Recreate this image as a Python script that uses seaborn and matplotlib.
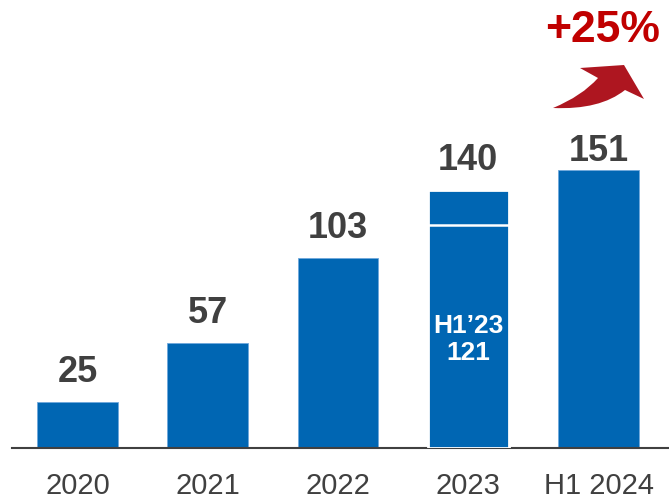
import matplotlib
matplotlib.use('Agg')
import matplotlib.pyplot as plt
import seaborn as sns
import pandas as pd
from matplotlib.path import Path
from matplotlib.patches import PathPatch

# chart data
categories = ['2020', '2021', '2022', '2023', 'H1 2024']
values = [25, 57, 103, 140, 151]
h1_2023 = 121
growth_label = '+25%'

blue = '#0066B3'
grey = '#404040'
red_text = '#C00000'
red_arrow = '#AE1620'

sns.set_theme(style='white')
plt.rcParams['font.family'] = ['Liberation Sans', 'DejaVu Sans']

W, H = 669, 499
fig = plt.figure(figsize=(W / 100, H / 100), dpi=100)
ax = fig.add_axes([12 / W, (H - 448) / H, 657 / W, 448 / H])

df = pd.DataFrame({'period': categories, 'value': values})
sns.barplot(data=df, x='period', y='value', color=blue, saturation=1,
            width=0.62, edgecolor='#6FA8DC', linewidth=0.6, ax=ax)

ax.set_xlim(-0.503, 4.54)
ax.set_ylim(0, 448 / 1.84)

# 2023 bar: white outline and H1 split line
bar23 = ax.patches[3]
bar23.set_edgecolor('white')
bar23.set_linewidth(2)
bar23.set_zorder(3)
bx = bar23.get_x()
bw = bar23.get_width()
ax.hlines(h1_2023, bx, bx + bw, color='white', lw=1.8, zorder=4)
ax.text(bx + bw / 2, 59, f'H1\u201923\n{h1_2023}', ha='center', va='center',
        color='white', fontsize=19, fontweight='bold', linespacing=1.2, zorder=5)

# value labels
for i, v in enumerate(values):
    off = 1 if i == len(values) - 1 else 9
    ax.annotate(str(v), (i, v), xytext=(0, off), textcoords='offset points',
                ha='center', va='bottom', fontsize=26, fontweight='bold', color=grey)

for s in ['top', 'right', 'left']:
    ax.spines[s].set_visible(False)
ax.spines['bottom'].set_color(grey)
ax.spines['bottom'].set_linewidth(1.5)
ax.set_yticks([])
ax.set_xlabel('')
ax.set_ylabel('')
ax.tick_params(axis='x', length=0, pad=17, labelsize=21, labelcolor=grey)

# growth arrow and label
def px(x, y):
    return (x / W, (H - y) / H)

verts = [px(553, 108), px(600, 110), px(625, 90), px(644, 99), px(624, 65),
         px(580, 68), px(598, 78), px(582, 96), px(553, 108), px(553, 108)]
codes = [Path.MOVETO, Path.CURVE3, Path.CURVE3, Path.LINETO, Path.LINETO,
         Path.LINETO, Path.LINETO, Path.CURVE3, Path.CURVE3, Path.CLOSEPOLY]
fig.patches.append(PathPatch(Path(verts, codes), transform=fig.transFigure,
                             facecolor=red_arrow, edgecolor='none'))
fig.text(603 / W, (H - 31) / H, growth_label, ha='center', va='center',
         fontsize=32, fontweight='bold', color=red_text)

fig.savefig('out.png', dpi=100)
